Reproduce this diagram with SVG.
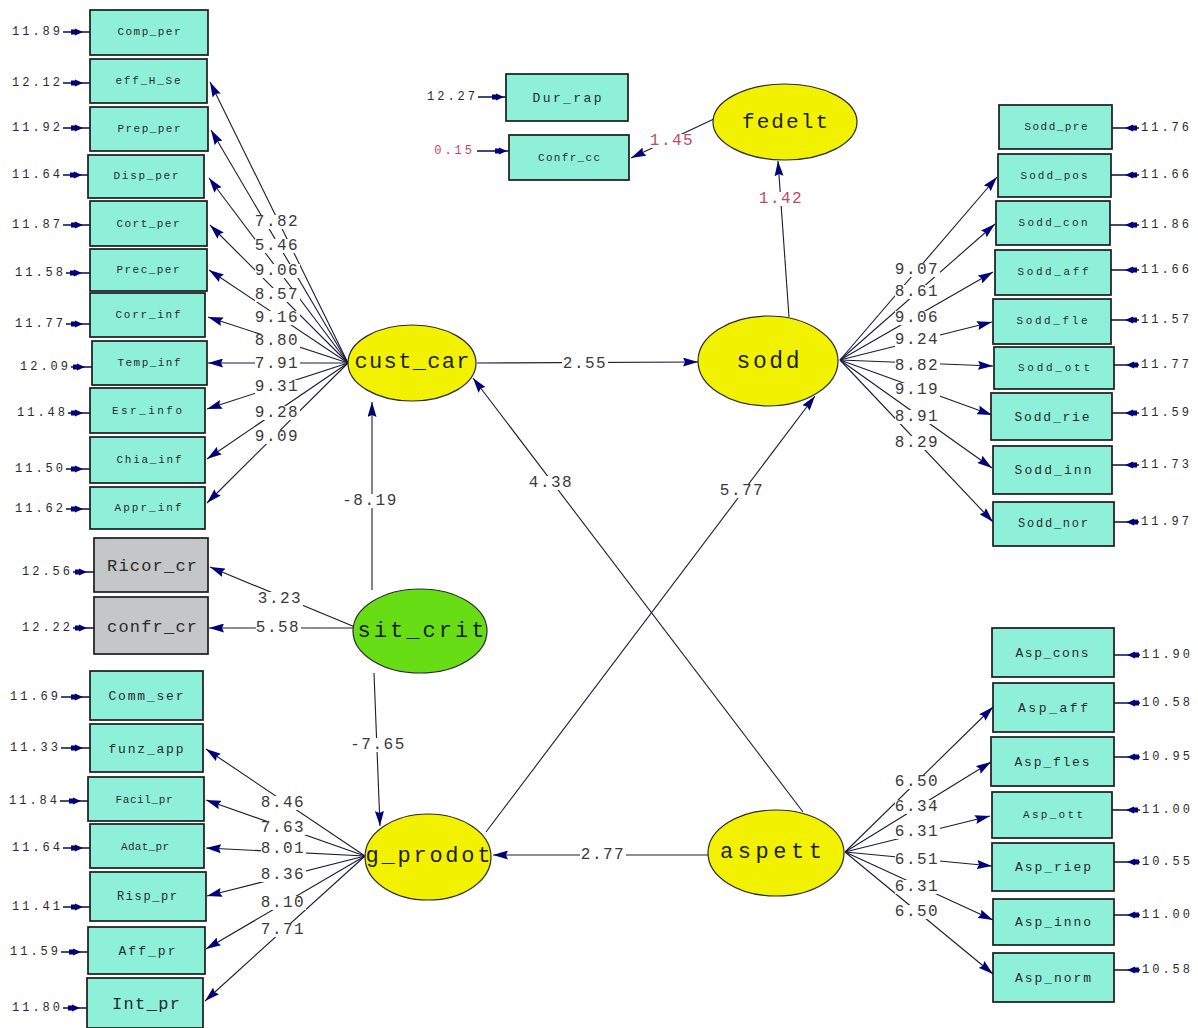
<svg xmlns="http://www.w3.org/2000/svg" width="1198" height="1028" viewBox="0 0 1198 1028">
<defs>
<style>
text { font-family: "Liberation Mono", "DejaVu Sans Mono", monospace; }
.ob { fill: #8EF0D9; stroke: #1c1c1c; stroke-width: 1.7; }
.gb { fill: #C3C7C7; stroke: #1c1c1c; stroke-width: 1.7; }
.lv { fill: #F2F200; stroke: #2a2a2a; stroke-width: 1.2; }
.xv { fill: #66DD14; stroke: #2a2a2a; stroke-width: 1.2; }
.bl { font-size: 11px; fill: #2a2a2a; text-anchor: middle; dominant-baseline: central; }
.ll { font-size: 22px; fill: #1e1e1e; text-anchor: middle; dominant-baseline: central; }
.ev { font-size: 12px; letter-spacing: 3px; fill: #2a2a2a; dominant-baseline: central; }
.evl { text-anchor: end; }
.ld { font-size: 16px; letter-spacing: 1.5px; fill: #3a3a3a; text-anchor: middle; dominant-baseline: central; }
.bg { fill: #ffffff; }
.red { fill: #C2476A; }
.p { fill: none; stroke: #1a1a3a; stroke-width: 1.1; marker-end: url(#ah); }
.e { fill: none; stroke: #1a1a50; stroke-width: 1.6; marker-mid: url(#eh); }
</style>
<marker id="ah" viewBox="0 0 15 9" refX="15" refY="4.5" markerWidth="15" markerHeight="9" markerUnits="userSpaceOnUse" orient="auto"><path d="M0,0 L15,4.5 L0,9 L2,4.5 z" fill="#00007A"/></marker>
<marker id="eh" viewBox="0 0 12 8" refX="12" refY="4" markerWidth="12" markerHeight="8" markerUnits="userSpaceOnUse" orient="auto"><path d="M0,1.5 L4,1.5 L4,0.5 L12,4 L4,7.5 L4,6.5 L0,6.5 z" fill="#00007A"/></marker>
</defs>
<rect width="1198" height="1028" fill="#ffffff"/>

<!-- paths between variables -->
<g id="connectors">
  <!-- cust_car loadings -->
  <path class="p" d="M348,363 L210,82"/>
  <path class="p" d="M348,363 L211,130"/>
  <path class="p" d="M348,363 L209,178"/>
  <path class="p" d="M348,363 L210,225"/>
  <path class="p" d="M348,363 L209,270"/>
  <path class="p" d="M348,363 L208,317"/>
  <path class="p" d="M348,363 L208,363"/>
  <path class="p" d="M348,363 L207,409"/>
  <path class="p" d="M348,363 L207,459"/>
  <path class="p" d="M348,363 L207,503"/>
  <!-- sodd loadings -->
  <path class="p" d="M840,360 L997,177"/>
  <path class="p" d="M840,360 L995,224"/>
  <path class="p" d="M840,360 L993,272"/>
  <path class="p" d="M840,360 L992,322"/>
  <path class="p" d="M840,360 L993,366"/>
  <path class="p" d="M840,360 L992,415"/>
  <path class="p" d="M840,360 L992,468"/>
  <path class="p" d="M840,360 L993,522"/>
  <!-- aspett loadings -->
  <path class="p" d="M845,852 L993,707"/>
  <path class="p" d="M845,852 L991,762"/>
  <path class="p" d="M845,852 L990,816"/>
  <path class="p" d="M845,852 L992,866"/>
  <path class="p" d="M845,852 L993,920"/>
  <path class="p" d="M845,852 L993,974"/>
  <!-- g_prodot loadings -->
  <path class="p" d="M365,856 L206,749"/>
  <path class="p" d="M365,856 L206,800"/>
  <path class="p" d="M365,856 L206,848"/>
  <path class="p" d="M365,856 L207,896"/>
  <path class="p" d="M365,856 L206,949"/>
  <path class="p" d="M365,856 L205,1001"/>
  <!-- sit_crit loadings -->
  <path class="p" d="M355,627 L210,567"/>
  <path class="p" d="M354,628 L209,628"/>
  <!-- fedelt loading -->
  <path class="p" d="M716,118 L631,158"/>
  <!-- structural paths -->
  <path class="p" d="M477,363 L698,362"/>
  <path class="p" d="M372,590 L372,402"/>
  <path class="p" d="M374,673 L380,826"/>
  <path class="p" d="M708,855 L493,855"/>
  <path class="p" d="M803,812 L473,378"/>
  <path class="p" d="M486,832 L815,396"/>
  <path class="p" d="M789,317 L778,161"/>

  <!-- blank patches that break the lines under the values -->
  <g class="bg">
    <rect x="255" y="215" width="45" height="14"/>
    <rect x="255" y="239" width="45" height="14"/>
    <rect x="255" y="264" width="45" height="14"/>
    <rect x="255" y="288" width="45" height="14"/>
    <rect x="255" y="311" width="45" height="14"/>
    <rect x="255" y="334" width="45" height="14"/>
    <rect x="255" y="357" width="45" height="14"/>
    <rect x="255" y="380" width="45" height="14"/>
    <rect x="255" y="406" width="45" height="14"/>
    <rect x="255" y="430" width="45" height="14"/>

    <rect x="895" y="263" width="45" height="14"/>
    <rect x="895" y="285" width="45" height="14"/>
    <rect x="895" y="311" width="45" height="14"/>
    <rect x="895" y="333" width="45" height="14"/>
    <rect x="895" y="359" width="45" height="14"/>
    <rect x="895" y="383" width="45" height="14"/>
    <rect x="895" y="410" width="45" height="14"/>
    <rect x="895" y="436" width="45" height="14"/>

    <rect x="895" y="775" width="45" height="14"/>
    <rect x="895" y="800" width="45" height="14"/>
    <rect x="895" y="825" width="45" height="14"/>
    <rect x="895" y="853" width="45" height="14"/>
    <rect x="895" y="880" width="45" height="14"/>
    <rect x="895" y="905" width="45" height="14"/>

    <rect x="261" y="796" width="45" height="14"/>
    <rect x="261" y="821" width="45" height="14"/>
    <rect x="261" y="842" width="45" height="14"/>
    <rect x="261" y="868" width="45" height="14"/>
    <rect x="261" y="896" width="45" height="14"/>
    <rect x="261" y="923" width="45" height="14"/>

    <rect x="258" y="592" width="45" height="14"/>
    <rect x="256" y="621" width="45" height="14"/>
    <rect x="562" y="357" width="46" height="14"/>
    <rect x="343" y="494" width="55" height="14"/>
    <rect x="351" y="738" width="55" height="14"/>
    <rect x="580" y="848" width="46" height="14"/>
    <rect x="528" y="476" width="46" height="14"/>
    <rect x="719" y="484" width="46" height="14"/>
    <rect x="758" y="192" width="46" height="14"/>
    <rect x="649" y="134" width="46" height="14"/>
  </g>

  <!-- path values -->
  <text class="ld" x="277" y="222">7.82</text>
  <text class="ld" x="277" y="246">5.46</text>
  <text class="ld" x="277" y="271">9.06</text>
  <text class="ld" x="277" y="295">8.57</text>
  <text class="ld" x="277" y="318">9.16</text>
  <text class="ld" x="277" y="341">8.80</text>
  <text class="ld" x="277" y="364">7.91</text>
  <text class="ld" x="277" y="387">9.31</text>
  <text class="ld" x="277" y="413">9.28</text>
  <text class="ld" x="277" y="437">9.09</text>

  <text class="ld" x="917" y="270">9.07</text>
  <text class="ld" x="917" y="292">8.61</text>
  <text class="ld" x="917" y="318">9.06</text>
  <text class="ld" x="917" y="340">9.24</text>
  <text class="ld" x="917" y="366">8.82</text>
  <text class="ld" x="917" y="390">9.19</text>
  <text class="ld" x="917" y="417">8.91</text>
  <text class="ld" x="917" y="443">8.29</text>

  <text class="ld" x="917" y="782">6.50</text>
  <text class="ld" x="917" y="807">6.34</text>
  <text class="ld" x="917" y="832">6.31</text>
  <text class="ld" x="917" y="860">6.51</text>
  <text class="ld" x="917" y="887">6.31</text>
  <text class="ld" x="917" y="912">6.50</text>

  <text class="ld" x="283" y="803">8.46</text>
  <text class="ld" x="283" y="828">7.63</text>
  <text class="ld" x="283" y="849">8.01</text>
  <text class="ld" x="283" y="875">8.36</text>
  <text class="ld" x="283" y="903">8.10</text>
  <text class="ld" x="283" y="930">7.71</text>

  <text class="ld" x="280" y="599">3.23</text>
  <text class="ld" x="278" y="628">5.58</text>

  <text class="ld" x="585" y="364">2.55</text>
  <text class="ld" x="370" y="501">-8.19</text>
  <text class="ld" x="378" y="745">-7.65</text>
  <text class="ld" x="603" y="855">2.77</text>
  <text class="ld" x="551" y="483">4.38</text>
  <text class="ld" x="742" y="491">5.77</text>
  <text class="ld red" x="781" y="199">1.42</text>
  <text class="ld red" x="672" y="141">1.45</text>
</g>

<!-- error variances of the observed variables -->
<g id="errors">
  <path class="e" d="M63,32 L83,32 L90,32"/>
  <path class="e" d="M63,83 L83,83 L90,83"/>
  <path class="e" d="M63,128 L83,128 L90,128"/>
  <path class="e" d="M63,175 L82,175 L88,175"/>
  <path class="e" d="M63,225 L83,225 L90,225"/>
  <path class="e" d="M66,273 L82,273 L90,273"/>
  <path class="e" d="M66,324 L83,324 L90,324"/>
  <path class="e" d="M71,367 L85,367 L92,367"/>
  <path class="e" d="M68,413 L83,413 L90,413"/>
  <path class="e" d="M66,469 L83,469 L90,469"/>
  <path class="e" d="M66,509 L83,509 L90,509"/>
  <path class="e" d="M73,572 L87,572 L94,572"/>
  <path class="e" d="M73,628 L87,628 L94,628"/>
  <path class="e" d="M61,697 L83,697 L90,697"/>
  <path class="e" d="M61,748 L83,748 L90,748"/>
  <path class="e" d="M60,801 L81,801 L88,801"/>
  <path class="e" d="M63,848 L83,848 L90,848"/>
  <path class="e" d="M63,907 L83,907 L90,907"/>
  <path class="e" d="M61,952 L81,952 L88,952"/>
  <path class="e" d="M63,1008 L80,1008 L87,1008"/>

  <text class="ev evl" x="63" y="32">11.89</text>
  <text class="ev evl" x="63" y="83">12.12</text>
  <text class="ev evl" x="63" y="128">11.92</text>
  <text class="ev evl" x="63" y="175">11.64</text>
  <text class="ev evl" x="63" y="225">11.87</text>
  <text class="ev evl" x="66" y="273">11.58</text>
  <text class="ev evl" x="66" y="324">11.77</text>
  <text class="ev evl" x="71" y="367">12.09</text>
  <text class="ev evl" x="68" y="413">11.48</text>
  <text class="ev evl" x="66" y="469">11.50</text>
  <text class="ev evl" x="66" y="509">11.62</text>
  <text class="ev evl" x="73" y="572">12.56</text>
  <text class="ev evl" x="73" y="628">12.22</text>
  <text class="ev evl" x="61" y="697">11.69</text>
  <text class="ev evl" x="61" y="748">11.33</text>
  <text class="ev evl" x="60" y="801">11.84</text>
  <text class="ev evl" x="63" y="848">11.64</text>
  <text class="ev evl" x="63" y="907">11.41</text>
  <text class="ev evl" x="61" y="952">11.59</text>
  <text class="ev evl" x="63" y="1008">11.80</text>

  <path class="e" d="M1139,128 L1125,128 L1112,128"/>
  <path class="e" d="M1139,175 L1125,175 L1111,175"/>
  <path class="e" d="M1139,225 L1125,225 L1110,225"/>
  <path class="e" d="M1139,270 L1125,270 L1111,270"/>
  <path class="e" d="M1139,320 L1125,320 L1111,320"/>
  <path class="e" d="M1139,365 L1126,365 L1114,365"/>
  <path class="e" d="M1139,413 L1125,413 L1112,413"/>
  <path class="e" d="M1139,465 L1125,465 L1112,465"/>
  <path class="e" d="M1139,522 L1126,522 L1114,522"/>
  <path class="e" d="M1140,655 L1127,655 L1114,655"/>
  <path class="e" d="M1140,703 L1127,703 L1114,703"/>
  <path class="e" d="M1140,757 L1127,757 L1114,757"/>
  <path class="e" d="M1140,810 L1126,810 L1112,810"/>
  <path class="e" d="M1140,862 L1127,862 L1114,862"/>
  <path class="e" d="M1140,915 L1127,915 L1114,915"/>
  <path class="e" d="M1140,970 L1127,970 L1114,970"/>

  <text class="ev" x="1141" y="128">11.76</text>
  <text class="ev" x="1141" y="175">11.66</text>
  <text class="ev" x="1141" y="225">11.86</text>
  <text class="ev" x="1141" y="270">11.66</text>
  <text class="ev" x="1141" y="320">11.57</text>
  <text class="ev" x="1141" y="365">11.77</text>
  <text class="ev" x="1141" y="413">11.59</text>
  <text class="ev" x="1141" y="465">11.73</text>
  <text class="ev" x="1141" y="522">11.97</text>
  <text class="ev" x="1142" y="655">11.90</text>
  <text class="ev" x="1142" y="703">10.58</text>
  <text class="ev" x="1142" y="757">10.95</text>
  <text class="ev" x="1142" y="810">11.00</text>
  <text class="ev" x="1142" y="862">10.55</text>
  <text class="ev" x="1142" y="915">11.00</text>
  <text class="ev" x="1142" y="970">10.58</text>

  <path class="e" d="M478,97 L504,97 L506,97"/>
  <path class="e" d="M477,151 L507,151 L509,151"/>
  <text class="ev evl" x="478" y="97">12.27</text>
  <text class="ev evl red" x="475" y="151">0.15</text>
</g>

<!-- observed variables: customer care indicators -->
<g id="Comp_per"><rect class="ob" x="90" y="10" width="118" height="45"/><text class="bl" x="149" y="32" textLength="63">Comp_per</text></g>
<g id="eff_H_Se"><rect class="ob" x="90" y="59" width="117" height="44"/><text class="bl" x="148" y="81" textLength="65">eff_H_Se</text></g>
<g id="Prep_per"><rect class="ob" x="90" y="107" width="118" height="44"/><text class="bl" x="149" y="129" textLength="63">Prep_per</text></g>
<g id="Disp_per"><rect class="ob" x="88" y="155" width="116" height="43"/><text class="bl" x="146" y="176" textLength="65">Disp_per</text></g>
<g id="Cort_per"><rect class="ob" x="90" y="201" width="117" height="45"/><text class="bl" x="148" y="224" textLength="63">Cort_per</text></g>
<g id="Prec_per"><rect class="ob" x="90" y="249" width="117" height="42"/><text class="bl" x="148" y="270" textLength="63">Prec_per</text></g>
<g id="Corr_inf"><rect class="ob" x="90" y="293" width="115" height="44"/><text class="bl" x="148" y="315" textLength="65">Corr_inf</text></g>
<g id="Temp_inf"><rect class="ob" x="92" y="341" width="115" height="44"/><text class="bl" x="149" y="363" textLength="63">Temp_inf</text></g>
<g id="Esr_info"><rect class="ob" x="90" y="388" width="115" height="45"/><text class="bl" x="147" y="411" textLength="70">Esr_info</text></g>
<g id="Chia_inf"><rect class="ob" x="90" y="437" width="115" height="46"/><text class="bl" x="149" y="460" textLength="65">Chia_inf</text></g>
<g id="Appr_inf"><rect class="ob" x="90" y="487" width="115" height="42"/><text class="bl" x="148" y="508" textLength="67">Appr_inf</text></g>

<!-- observed variables: critical situation indicators -->
<g id="Ricor_cr"><rect class="gb" x="94" y="538" width="114" height="54"/><text class="bl" x="152" y="566" textLength="90" style="font-size:17px">Ricor_cr</text></g>
<g id="confr_cr"><rect class="gb" x="94" y="597" width="114" height="57"/><text class="bl" x="152" y="627" textLength="90" style="font-size:17px">confr_cr</text></g>

<!-- observed variables: product quality indicators -->
<g id="Comm_ser"><rect class="ob" x="90" y="671" width="113" height="49"/><text class="bl" x="146" y="696" textLength="75" style="font-size:13px">Comm_ser</text></g>
<g id="funz_app"><rect class="ob" x="90" y="724" width="113" height="48"/><text class="bl" x="146" y="749" textLength="75" style="font-size:13px">funz_app</text></g>
<g id="Facil_pr"><rect class="ob" x="88" y="777" width="116" height="44"/><text class="bl" x="144" y="800" textLength="57">Facil_pr</text></g>
<g id="Adat_pr"><rect class="ob" x="90" y="824" width="114" height="44"/><text class="bl" x="145" y="847" textLength="48">Adat_pr</text></g>
<g id="Risp_pr"><rect class="ob" x="90" y="872" width="116" height="49"/><text class="bl" x="147" y="897" textLength="60" style="font-size:12px">Risp_pr</text></g>
<g id="Aff_pr"><rect class="ob" x="88" y="927" width="117" height="47"/><text class="bl" x="147" y="951" textLength="57" style="font-size:13px">Aff_pr</text></g>
<g id="Int_pr"><rect class="ob" x="87" y="978" width="116" height="50"/><text class="bl" x="146" y="1004" textLength="68" style="font-size:17px">Int_pr</text></g>

<!-- observed variables: loyalty indicators -->
<g id="Dur_rap"><rect class="ob" x="506" y="74" width="122" height="47"/><text class="bl" x="567" y="98" textLength="69" style="font-size:13px">Dur_rap</text></g>
<g id="Confr_cc"><rect class="ob" x="509" y="135" width="120" height="45"/><text class="bl" x="569" y="158" textLength="62">Confr_cc</text></g>

<!-- observed variables: satisfaction indicators -->
<g id="Sodd_pre"><rect class="ob" x="999" y="105" width="113" height="44"/><text class="bl" x="1056" y="127" textLength="63">Sodd_pre</text></g>
<g id="Sodd_pos"><rect class="ob" x="998" y="154" width="113" height="43"/><text class="bl" x="1054" y="176" textLength="67">Sodd_pos</text></g>
<g id="Sodd_con"><rect class="ob" x="996" y="201" width="114" height="44"/><text class="bl" x="1053" y="223" textLength="69">Sodd_con</text></g>
<g id="Sodd_aff"><rect class="ob" x="995" y="250" width="116" height="45"/><text class="bl" x="1053" y="272" textLength="71">Sodd_aff</text></g>
<g id="Sodd_fle"><rect class="ob" x="993" y="299" width="118" height="45"/><text class="bl" x="1052" y="321" textLength="71">Sodd_fle</text></g>
<g id="Sodd_ott"><rect class="ob" x="994" y="347" width="120" height="42"/><text class="bl" x="1054" y="368" textLength="72">Sodd_ott</text></g>
<g id="Sodd_rie"><rect class="ob" x="991" y="393" width="121" height="47"/><text class="bl" x="1052" y="417" textLength="75" style="font-size:13px">Sodd_rie</text></g>
<g id="Sodd_inn"><rect class="ob" x="993" y="446" width="119" height="48"/><text class="bl" x="1053" y="470" textLength="77" style="font-size:13px">Sodd_inn</text></g>
<g id="Sodd_nor"><rect class="ob" x="993" y="502" width="121" height="44"/><text class="bl" x="1053" y="524" textLength="70" style="font-size:12px">Sodd_nor</text></g>

<!-- observed variables: appearance indicators -->
<g id="Asp_cons"><rect class="ob" x="992" y="628" width="122" height="49"/><text class="bl" x="1052" y="653" textLength="73" style="font-size:13px">Asp_cons</text></g>
<g id="Asp_aff"><rect class="ob" x="993" y="683" width="121" height="49"/><text class="bl" x="1053" y="708" textLength="70" style="font-size:13px">Asp_aff</text></g>
<g id="Asp_fles"><rect class="ob" x="991" y="737" width="123" height="49"/><text class="bl" x="1052" y="762" textLength="75" style="font-size:13px">Asp_fles</text></g>
<g id="Asp_ott"><rect class="ob" x="992" y="792" width="120" height="46"/><text class="bl" x="1053" y="815" textLength="60">Asp_ott</text></g>
<g id="Asp_riep"><rect class="ob" x="992" y="843" width="122" height="48"/><text class="bl" x="1053" y="867" textLength="76" style="font-size:13px">Asp_riep</text></g>
<g id="Asp_inno"><rect class="ob" x="993" y="899" width="121" height="46"/><text class="bl" x="1053" y="922" textLength="76" style="font-size:13px">Asp_inno</text></g>
<g id="Asp_norm"><rect class="ob" x="993" y="953" width="121" height="49"/><text class="bl" x="1053" y="978" textLength="76" style="font-size:13px">Asp_norm</text></g>

<!-- latent variables -->
<g id="cust_car"><ellipse class="lv" cx="412" cy="363" rx="64" ry="38"/><text class="ll" x="412" y="362" textLength="115">cust_car</text></g>
<g id="sodd"><ellipse class="lv" cx="768" cy="361" rx="70" ry="45"/><text class="ll" x="768" y="362" textLength="63" style="font-size:23px">sodd</text></g>
<g id="fedelt"><ellipse class="lv" cx="785" cy="122" rx="72" ry="38"/><text class="ll" x="785" y="122" textLength="86" style="font-size:21px">fedelt</text></g>
<g id="sit_crit"><ellipse class="xv" cx="420" cy="631" rx="67" ry="42"/><text class="ll" x="421" y="631" textLength="127">sit_crit</text></g>
<g id="g_prodot"><ellipse class="lv" cx="428" cy="857" rx="63" ry="43"/><text class="ll" x="428" y="856" textLength="125">g_prodot</text></g>
<g id="aspett"><ellipse class="lv" cx="776" cy="853" rx="68" ry="43"/><text class="ll" x="771" y="852" textLength="102">aspett</text></g>
</svg>
